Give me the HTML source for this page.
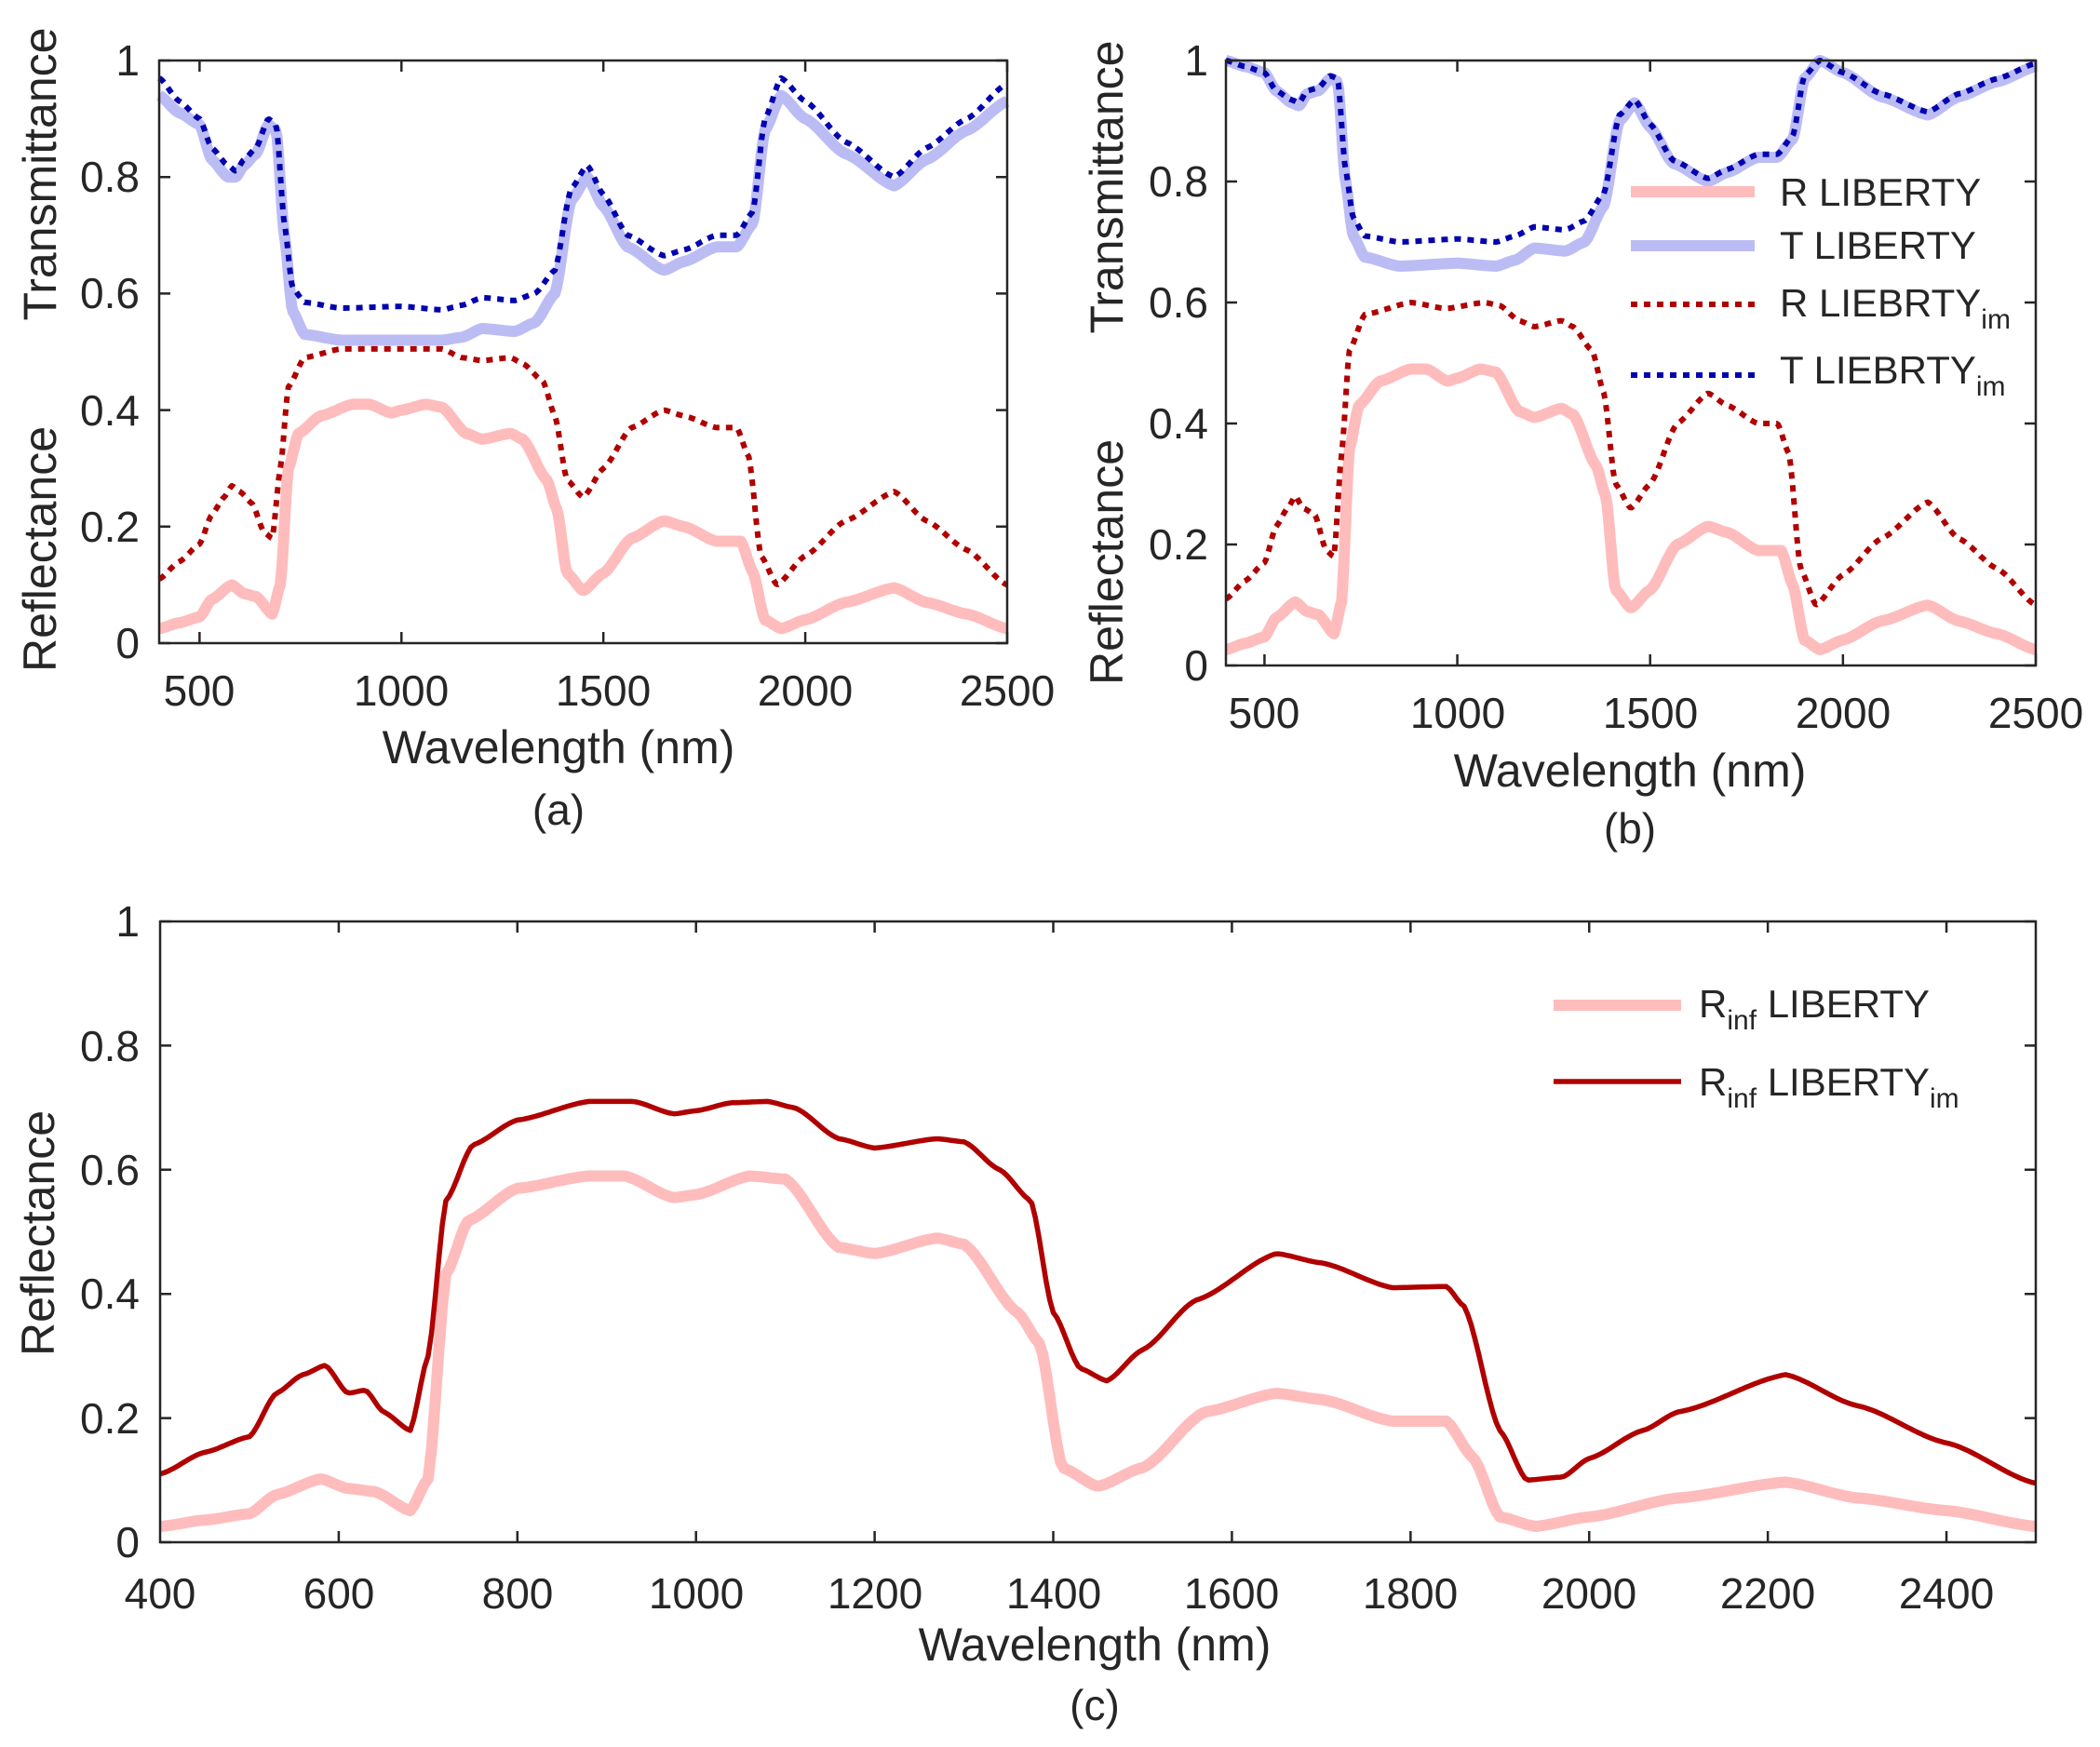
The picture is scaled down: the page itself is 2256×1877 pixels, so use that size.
<!DOCTYPE html>
<html><head><meta charset="utf-8"><style>
html,body{margin:0;padding:0;background:#fff}
svg{display:block}
text{font-family:"Liberation Sans",sans-serif;fill:#262626}
</style></head><body>
<svg id="s" width="2256" height="1877" viewBox="0 0 2256 1877" xmlns="http://www.w3.org/2000/svg">
<g id="curves"></g>
<g id="axes" fill="none" stroke="#262626" stroke-width="2.5"></g>
<!-- (a) labels -->
<g font-size="46" text-anchor="middle">
<text x="214" y="758">500</text><text x="431" y="758">1000</text><text x="648" y="758">1500</text><text x="865" y="758">2000</text><text x="1082" y="758">2500</text>
</g>
<g font-size="46" text-anchor="end">
<text x="150" y="707">0</text><text x="150" y="582">0.2</text><text x="150" y="457">0.4</text><text x="150" y="331">0.6</text><text x="150" y="206">0.8</text><text x="150" y="81">1</text>
</g>
<text font-size="50" text-anchor="middle" x="600" y="820">Wavelength (nm)</text>
<text font-size="46" text-anchor="middle" x="600" y="886">(a)</text>
<text font-size="50" text-anchor="middle" transform="translate(60,187) rotate(-90)">Transmittance</text>
<text font-size="50" text-anchor="middle" transform="translate(60,590) rotate(-90)">Reflectance</text>
<!-- (b) labels -->
<g font-size="46" text-anchor="middle">
<text x="1358" y="782">500</text><text x="1566" y="782">1000</text><text x="1773" y="782">1500</text><text x="1980" y="782">2000</text><text x="2187" y="782">2500</text>
</g>
<g font-size="46" text-anchor="end">
<text x="1298" y="731">0</text><text x="1298" y="601">0.2</text><text x="1298" y="471">0.4</text><text x="1298" y="341">0.6</text><text x="1298" y="211">0.8</text><text x="1298" y="81">1</text>
</g>
<text font-size="50" text-anchor="middle" x="1751" y="845">Wavelength (nm)</text>
<text font-size="46" text-anchor="middle" x="1751" y="906">(b)</text>
<text font-size="50" text-anchor="middle" transform="translate(1206,201) rotate(-90)">Transmittance</text>
<text font-size="50" text-anchor="middle" transform="translate(1206,604) rotate(-90)">Reflectance</text>
<g font-size="42">
<text x="1912" y="221">R LIBERTY</text>
<text x="1912" y="278">T LIBERTY</text>
<text x="1912" y="340">R LIEBRTY<tspan font-size="30" dy="13">im</tspan></text>
<text x="1912" y="412">T LIEBRTY<tspan font-size="30" dy="13">im</tspan></text>
</g>
<!-- (c) labels -->
<g font-size="46" text-anchor="middle">
<text x="172" y="1728">400</text><text x="364" y="1728">600</text><text x="556" y="1728">800</text><text x="748" y="1728">1000</text><text x="940" y="1728">1200</text><text x="1132" y="1728">1400</text><text x="1323" y="1728">1600</text><text x="1515" y="1728">1800</text><text x="1707" y="1728">2000</text><text x="1899" y="1728">2200</text><text x="2091" y="1728">2400</text>
</g>
<g font-size="46" text-anchor="end">
<text x="150" y="1673">0</text><text x="150" y="1540">0.2</text><text x="150" y="1406">0.4</text><text x="150" y="1273">0.6</text><text x="150" y="1140">0.8</text><text x="150" y="1006">1</text>
</g>
<text font-size="50" text-anchor="middle" x="1176" y="1784">Wavelength (nm)</text>
<text font-size="46" text-anchor="middle" x="1176" y="1848">(c)</text>
<text font-size="50" text-anchor="middle" transform="translate(58,1325) rotate(-90)">Reflectance</text>
<g font-size="42">
<text x="1825" y="1093">R<tspan font-size="30" dy="13">inf</tspan><tspan dy="-13"> LIBERTY</tspan></text>
<text x="1825" y="1177">R<tspan font-size="30" dy="13">inf</tspan><tspan dy="-13"> LIBERTY</tspan><tspan font-size="30" dy="13">im</tspan></text>
</g>
</svg>
<script>
var NS="http://www.w3.org/2000/svg";
var C=document.getElementById('curves'),A=document.getElementById('axes');
function el(p,at){var e=document.createElementNS(NS,'path');for(var k in at)e.setAttribute(k,at[k]);p.appendChild(e);return e;}
function interp(pts,x){for(var i=0;i<pts.length-1;i++){if(x<=pts[i+1][0]){var a=pts[i],b=pts[i+1];
var t=(x-a[0])/(b[0]-a[0]);var s=t*t*(3-2*t);var u=0.5*t+0.5*s;return a[1]+(b[1]-a[1])*u;}}return pts[pts.length-1][1];}
function curve(ax,pts,at){var d='';for(var w=400;w<=2500;w+=4){var x=ax.x0+(w-400)/2100*(ax.x1-ax.x0);var y=ax.y1-interp(pts,w)*(ax.y1-ax.y0);d+=(d?'L':'M')+x.toFixed(1)+' '+y.toFixed(1);}at.d=d;at.fill='none';at['stroke-linejoin']='round';el(C,at);}
function axes(ax,xt,yt){el(A,{d:'M'+ax.x0+' '+ax.y0+'H'+ax.x1+'V'+ax.y1+'H'+ax.x0+'Z'});var d='';
xt.forEach(function(w){var x=ax.x0+(w-400)/2100*(ax.x1-ax.x0);d+='M'+x+' '+ax.y1+'v-12M'+x+' '+ax.y0+'v12';});
yt.forEach(function(v){var y=ax.y1-v*(ax.y1-ax.y0);d+='M'+ax.x0+' '+y+'h12M'+ax.x1+' '+y+'h-12';});el(A,{d:d});}
var a={x0:171,x1:1082,y0:65,y1:691},b={x0:1317,x1:2187,y0:65,y1:715},c={x0:172,x1:2187,y0:990,y1:1657};
var yt=[0,.2,.4,.6,.8,1];
axes(a,[500,1000,1500,2000,2500],yt);axes(b,[500,1000,1500,2000,2500],yt);axes(c,[600,800,1000,1200,1400,1600,1800,2000,2200,2400],yt);
var PK='#ffbcbc',LB='#bcbcf5',DR='#b00000',DB='#0000b0';
var TW=12,DW=6,DA='7 7';
function Rshape(p,pl,dip,m1,m2,s1,h1,h2,w1){return [[400,.025*p],[450,.035*p],[500,.045*p],[530,.075*p],[580,.1*p],[610,.085*p],[640,.08*p],[680,.05*p],[700,.1*p],[720,.3*pl/.41],[745,.36*pl/.41],[800,pl-.02],[880,pl],[920,pl],[975,dip],[1000,dip+.005],[1060,pl],[1100,pl-.005],[1160,m1+.01],[1200,m1],[1270,m2],[1300,m2-.01],[1360,s1],[1385,s1-.05],[1410,h1+.03],[1450,h1],[1500,h1+.03],[1570,h2-.03],[1650,h2],[1700,h2-.01],[1780,w1],[1840,w1],[1870,w1*.7],[1900,.04*p],[1940,.025*p],[2000,.04*p],[2100,.07*p],[2220,.095*p],[2300,.07*p],[2400,.05*p],[2500,.025*p]];}
// (a)
curve(a,Rshape(1,.41,.395,.35,.36,.28,.09,.21,.175),{stroke:PK,'stroke-width':TW});
curve(a,[[400,.94],[450,.91],[500,.89],[530,.83],[570,.8],[590,.8],[610,.82],[640,.84],[670,.89],[690,.88],[710,.7],[730,.57],[760,.53],[850,.52],[1000,.52],[1100,.52],[1150,.525],[1200,.54],[1280,.535],[1330,.55],[1380,.6],[1420,.76],[1460,.8],[1500,.75],[1560,.68],[1650,.64],[1700,.655],[1780,.68],[1830,.68],[1870,.72],[1900,.88],[1940,.94],[2000,.9],[2100,.84],[2220,.785],[2300,.83],[2400,.88],[2500,.93]],{stroke:LB,'stroke-width':TW});
curve(a,[[400,.11],[450,.14],[500,.17],[530,.22],[560,.25],[580,.27],[600,.26],[630,.24],[660,.19],[680,.18],[700,.3],[720,.44],[760,.49],[850,.505],[1000,.505],[1100,.505],[1150,.49],[1200,.485],[1270,.49],[1300,.48],[1350,.45],[1380,.39],[1410,.28],[1450,.25],[1500,.3],[1570,.37],[1650,.4],[1700,.39],[1780,.37],[1830,.37],[1860,.32],[1890,.15],[1930,.1],[2000,.15],[2100,.21],[2220,.26],[2300,.21],[2400,.16],[2500,.1]],{stroke:DR,'stroke-width':DW,'stroke-dasharray':DA});
curve(a,[[400,.97],[450,.93],[500,.9],[530,.85],[570,.82],[590,.81],[610,.83],[640,.85],[670,.9],[690,.89],[710,.72],[730,.61],[760,.585],[850,.575],[1000,.578],[1100,.572],[1150,.58],[1200,.593],[1280,.588],[1330,.6],[1380,.64],[1420,.78],[1460,.82],[1500,.77],[1560,.7],[1650,.665],[1700,.675],[1780,.7],[1830,.7],[1870,.74],[1900,.9],[1940,.97],[2000,.93],[2100,.86],[2220,.8],[2300,.85],[2400,.9],[2500,.96]],{stroke:DB,'stroke-width':DW,'stroke-dasharray':DA});
// (b)
curve(b,Rshape(1.05,.49,.47,.41,.425,.33,.095,.23,.19),{stroke:PK,'stroke-width':TW});
curve(b,[[400,1],[450,.99],[500,.98],[530,.95],[570,.93],[590,.925],[610,.945],[640,.95],[670,.97],[690,.965],[710,.8],[730,.71],[760,.675],[850,.66],[1000,.665],[1100,.66],[1150,.67],[1200,.69],[1280,.685],[1330,.7],[1380,.76],[1420,.9],[1460,.93],[1500,.89],[1560,.83],[1650,.8],[1700,.815],[1780,.84],[1830,.84],[1870,.87],[1900,.97],[1940,1],[2000,.98],[2100,.94],[2220,.91],[2300,.94],[2400,.965],[2500,.99]],{stroke:LB,'stroke-width':TW});
curve(b,[[400,.11],[450,.14],[500,.17],[530,.23],[560,.26],[580,.28],[600,.26],[630,.25],[660,.19],[680,.18],[700,.35],[720,.52],[760,.58],[880,.6],[970,.59],[1070,.6],[1110,.595],[1160,.57],[1200,.56],[1270,.57],[1300,.56],[1350,.52],[1380,.45],[1410,.3],[1450,.26],[1500,.3],[1570,.4],[1650,.45],[1700,.43],[1780,.4],[1830,.4],[1860,.35],[1890,.16],[1930,.1],[2000,.15],[2100,.21],[2220,.27],[2300,.21],[2400,.16],[2500,.1]],{stroke:DR,'stroke-width':DW,'stroke-dasharray':DA});
curve(b,[[400,1],[450,.99],[500,.98],[530,.95],[570,.935],[590,.93],[610,.95],[640,.955],[670,.975],[690,.97],[710,.82],[730,.74],[760,.71],[850,.7],[1000,.705],[1100,.7],[1150,.71],[1200,.725],[1280,.72],[1330,.735],[1380,.78],[1420,.91],[1460,.935],[1500,.895],[1560,.835],[1650,.805],[1700,.82],[1780,.845],[1830,.845],[1870,.875],[1900,.975],[1940,1],[2000,.98],[2100,.945],[2220,.915],[2300,.945],[2400,.97],[2500,.995]],{stroke:DB,'stroke-width':DW,'stroke-dasharray':DA});
// legend (b)
el(C,{d:'M1752 206H1885',stroke:PK,'stroke-width':TW});
el(C,{d:'M1752 264H1885',stroke:LB,'stroke-width':TW});
el(C,{d:'M1752 327H1885',stroke:DR,'stroke-width':DW,'stroke-dasharray':DA});
el(C,{d:'M1752 403H1885',stroke:DB,'stroke-width':DW,'stroke-dasharray':DA});
// (c)
curve(c,Rshape(1.02,.59,.555,.465,.49,.37,.09,.24,.195),{stroke:PK,'stroke-width':TW});
curve(c,[[400,.11],[450,.145],[500,.17],[530,.24],[560,.27],[585,.285],[610,.24],[630,.245],[650,.21],[680,.18],[700,.3],[720,.55],[750,.64],[800,.68],[880,.71],[930,.71],[975,.69],[1000,.695],[1040,.708],[1080,.71],[1110,.7],[1160,.65],[1200,.635],[1270,.65],[1300,.645],[1340,.6],[1375,.55],[1400,.37],[1430,.28],[1460,.26],[1500,.31],[1560,.39],[1650,.465],[1700,.45],[1780,.41],[1840,.412],[1860,.38],[1900,.18],[1930,.1],[1970,.105],[2000,.135],[2060,.18],[2100,.21],[2220,.27],[2300,.22],[2400,.16],[2500,.095]],{stroke:DR,'stroke-width':5.5});
el(C,{d:'M1669 1080H1806',stroke:PK,'stroke-width':TW});
el(C,{d:'M1669 1162H1806',stroke:DR,'stroke-width':5.5});
</script>
</body></html>
